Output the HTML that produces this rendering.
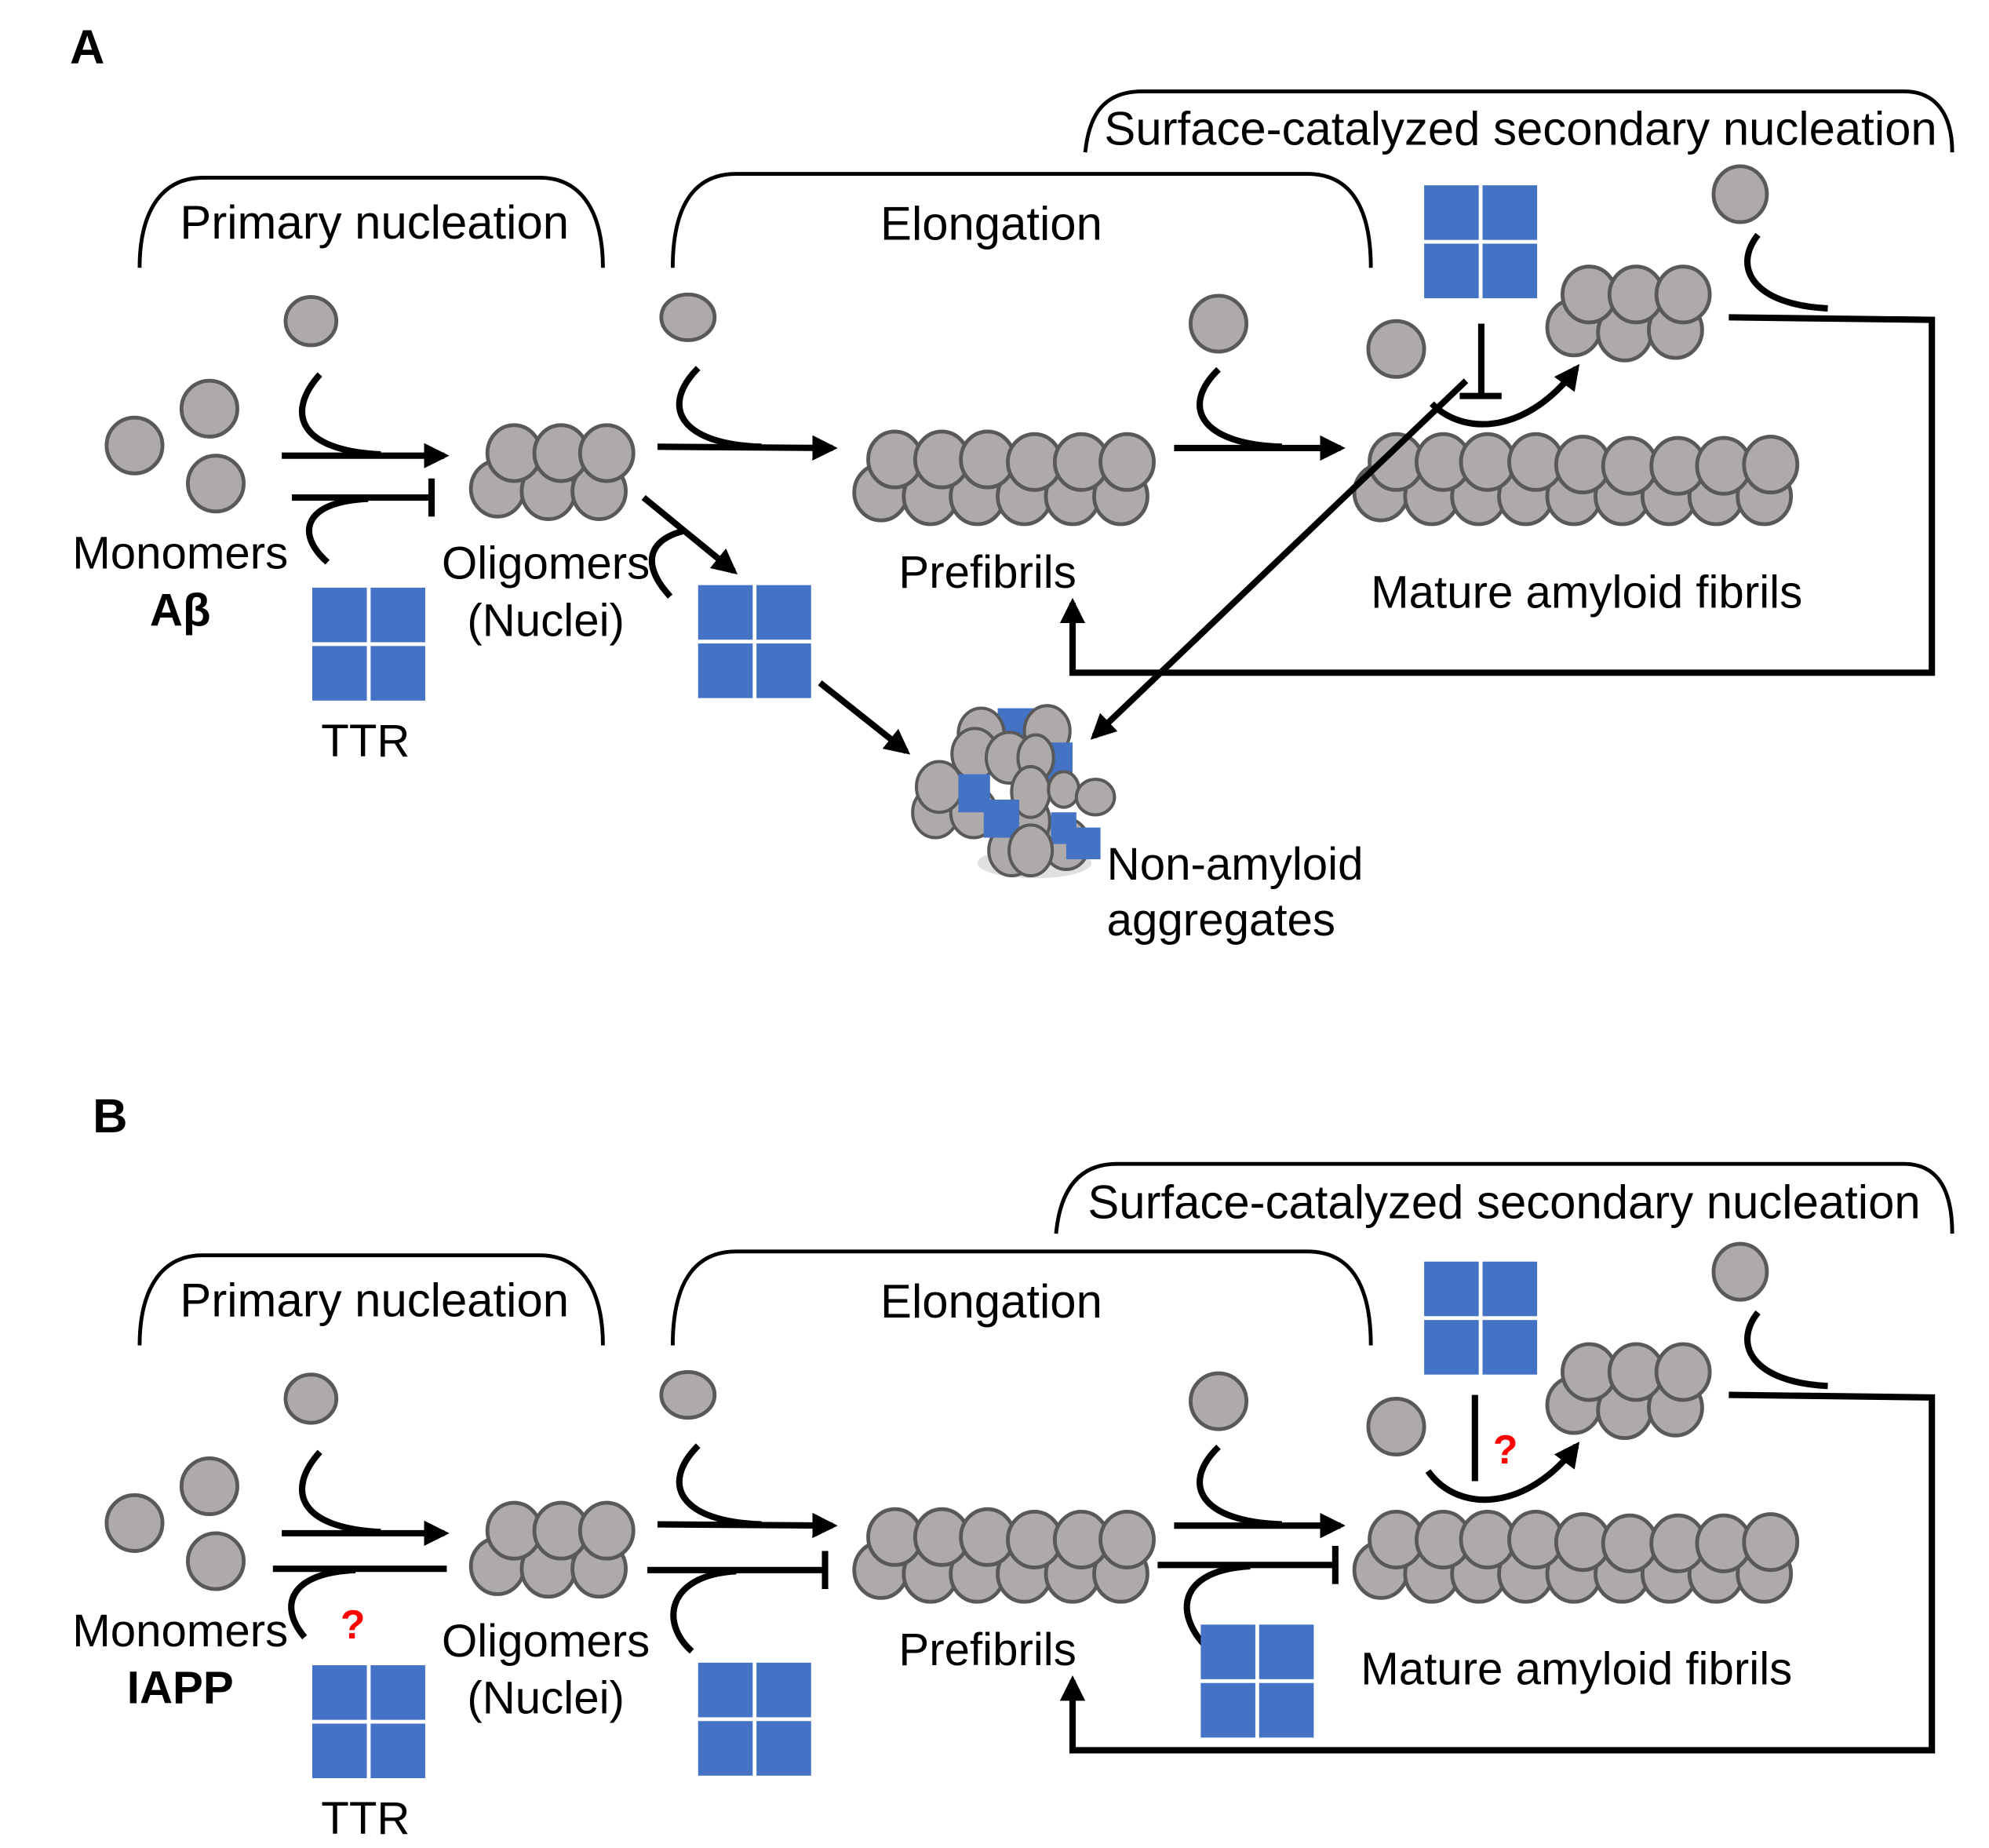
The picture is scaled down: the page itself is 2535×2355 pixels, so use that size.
<!DOCTYPE html>
<html><head><meta charset="utf-8"><style>
html,body{margin:0;padding:0;background:#fff;}
svg{display:block;}
text{font-family:"Liberation Sans",sans-serif;fill:#000;}
</style></head><body>
<svg width="2535" height="2355" viewBox="0 0 1567 1456" preserveAspectRatio="none" xmlns="http://www.w3.org/2000/svg">
<defs>
<marker id="ah" viewBox="0 0 10 10" refX="8" refY="5" markerWidth="4" markerHeight="4" orient="auto" markerUnits="strokeWidth"><path d="M0,0 L10,5 L0,10 z" fill="#000"/></marker>
<g id="ttr"><rect x="0" y="0" width="43" height="43" fill="#4472c4"/><rect x="46" y="0" width="43" height="43" fill="#4472c4"/><rect x="0" y="46" width="43" height="43" fill="#4472c4"/><rect x="46" y="46" width="43" height="43" fill="#4472c4"/></g>
<g id="olig" fill="#aeaaaa" stroke="#595959" stroke-width="3">
<ellipse cx="392" cy="385" rx="21" ry="22"/><ellipse cx="432" cy="387" rx="21" ry="22"/><ellipse cx="472" cy="387" rx="21" ry="22"/>
<ellipse cx="405" cy="357" rx="21" ry="22"/><ellipse cx="442" cy="357" rx="21" ry="22"/><ellipse cx="478" cy="357" rx="21" ry="22"/>
</g>
<g id="pref" fill="#aeaaaa" stroke="#595959" stroke-width="3">
<ellipse cx="694" cy="388" rx="21" ry="22"/><ellipse cx="733" cy="391" rx="21" ry="22"/><ellipse cx="770" cy="391" rx="21" ry="22"/><ellipse cx="807" cy="391" rx="21" ry="22"/><ellipse cx="845" cy="391" rx="21" ry="22"/><ellipse cx="883" cy="391" rx="21" ry="22"/>
<ellipse cx="705" cy="362" rx="21" ry="22"/><ellipse cx="742" cy="362" rx="21" ry="22"/><ellipse cx="778" cy="362" rx="21" ry="22"/><ellipse cx="815" cy="364" rx="21" ry="22"/><ellipse cx="852" cy="364" rx="21" ry="22"/><ellipse cx="888" cy="364" rx="21" ry="22"/>
</g>
<g id="mat" fill="#aeaaaa" stroke="#595959" stroke-width="3">
<ellipse cx="1088" cy="388" rx="21" ry="22"/><ellipse cx="1128" cy="391" rx="21" ry="22"/><ellipse cx="1165" cy="391" rx="21" ry="22"/><ellipse cx="1202" cy="391" rx="21" ry="22"/><ellipse cx="1240" cy="391" rx="21" ry="22"/><ellipse cx="1278" cy="391" rx="21" ry="22"/><ellipse cx="1315" cy="391" rx="21" ry="22"/><ellipse cx="1352" cy="391" rx="21" ry="22"/><ellipse cx="1390" cy="391" rx="21" ry="22"/>
<ellipse cx="1100" cy="364" rx="21" ry="22"/><ellipse cx="1137" cy="364" rx="21" ry="22"/><ellipse cx="1172" cy="364" rx="21" ry="22"/><ellipse cx="1210" cy="364" rx="21" ry="22"/><ellipse cx="1247" cy="366" rx="21" ry="22"/><ellipse cx="1284" cy="367" rx="21" ry="22"/><ellipse cx="1322" cy="367" rx="21" ry="22"/><ellipse cx="1358" cy="367" rx="21" ry="22"/><ellipse cx="1395" cy="366" rx="21" ry="22"/>
</g>
<g id="small" fill="#aeaaaa" stroke="#595959" stroke-width="3">
<ellipse cx="1240" cy="258" rx="21" ry="22"/><ellipse cx="1280" cy="262" rx="21" ry="22"/><ellipse cx="1320" cy="260" rx="21" ry="22"/>
<ellipse cx="1252" cy="232" rx="21" ry="22"/><ellipse cx="1289" cy="232" rx="21" ry="22"/><ellipse cx="1326" cy="232" rx="21" ry="22"/>
</g>
<g id="common">
<path d="M110,211 C110,170 125,140 160,140 L425,140 C460,140 475,170 475,211" fill="none" stroke="#000" stroke-width="3"/>
<path d="M530,211 C530,165 545,137 580,137 L1030,137 C1065,137 1080,165 1080,211" fill="none" stroke="#000" stroke-width="3"/>
<text x="295" y="188" font-size="37" text-anchor="middle">Primary nucleation</text>
<text x="781" y="189" font-size="37" text-anchor="middle">Elongation</text>
<g fill="#aeaaaa" stroke="#595959" stroke-width="3">
<ellipse cx="106" cy="351" rx="22" ry="22"/><ellipse cx="165" cy="322" rx="22" ry="22"/><ellipse cx="170" cy="381" rx="22" ry="22"/>
<ellipse cx="245" cy="253" rx="20" ry="19"/><ellipse cx="542" cy="250" rx="21" ry="18"/><ellipse cx="960" cy="255" rx="22" ry="22"/>
<ellipse cx="1100" cy="275" rx="22" ry="22"/><ellipse cx="1371" cy="153" rx="21" ry="22"/>
</g>
<use href="#olig"/><use href="#pref"/><use href="#mat"/><use href="#small"/>
<g stroke="#000" stroke-width="5" fill="none">
<path d="M222,359 L350,359" marker-end="url(#ah)"/>
<path d="M252,295 C225,325 235,355 300,358"/>
<path d="M518,352 L656,353" marker-end="url(#ah)"/>
<path d="M550,290 C520,320 535,350 600,352"/>
<path d="M925,353 L1056,353" marker-end="url(#ah)"/>
<path d="M960,291 C930,320 945,350 1010,352"/>
<path d="M1385,185 C1365,210 1380,240 1440,243"/>
<path d="M1362,250 L1522,252 L1522,530 L845,530 L845,475" marker-end="url(#ah)"/>
</g>
<text x="142" y="448" font-size="36" text-anchor="middle">Monomers</text>
<text x="430" y="456" font-size="36" text-anchor="middle">Oligomers</text>
<text x="430" y="501" font-size="36" text-anchor="middle">(Nuclei)</text>
<text x="778" y="463" font-size="36" text-anchor="middle">Prefibrils</text>
<text x="288" y="596" font-size="36" text-anchor="middle">TTR</text>
<use href="#ttr" x="246" y="463"/>
<use href="#ttr" x="550" y="461"/>
</g>
</defs>

<text x="55" y="50" font-size="38" font-weight="bold">A</text>
<path d="M855,120 C858,90 870,72 900,72 L1500,72 C1525,72 1538,90 1538,120" fill="none" stroke="#000" stroke-width="3"/>
<text x="1198" y="114" font-size="37" text-anchor="middle">Surface-catalyzed secondary nucleation</text>
<use href="#common"/>
<text x="142" y="493" font-size="36" font-weight="bold" text-anchor="middle">Aβ</text>
<text x="1250" y="479" font-size="36" text-anchor="middle">Mature amyloid fibrils</text>
<g stroke="#000" stroke-width="5" fill="none">
<path d="M230,392 L340,392"/><path d="M340,377 L340,407"/>
<path d="M258,443 C232,420 240,395 290,393"/>
<path d="M507,392 L578,450" marker-end="url(#ah)"/>
<path d="M528,470 C505,445 510,425 540,418"/>
<path d="M646,538 L714,592" marker-end="url(#ah)"/>
<path d="M1167,255 L1167,312"/><path d="M1150,312 L1183,312"/>
<path d="M1128,318 C1155,345 1205,340 1242,290" marker-end="url(#ah)"/>
<path d="M1155,300 L862,580" marker-end="url(#ah)"/>
</g>
<use href="#ttr" x="1122" y="146"/>
<g>
<ellipse cx="815" cy="680" rx="45" ry="12" fill="#ccc" opacity="0.6"/>
<rect x="786" y="558" width="30" height="45" fill="#4472c4"/>
<g fill="#aeaaaa" stroke="#595959" stroke-width="2.5">
<ellipse cx="773" cy="578" rx="18" ry="20"/><ellipse cx="825" cy="576" rx="18" ry="20"/>
<ellipse cx="737" cy="640" rx="18" ry="20"/><ellipse cx="767" cy="640" rx="18" ry="20"/>
<ellipse cx="797" cy="670" rx="18" ry="20"/><ellipse cx="840" cy="665" rx="18" ry="20"/>
</g>
<rect x="815" y="585" width="30" height="45" fill="#4472c4"/>
<g fill="#aeaaaa" stroke="#595959" stroke-width="2.5">
<ellipse cx="740" cy="620" rx="18" ry="20"/>
<ellipse cx="768" cy="594" rx="18" ry="20"/><ellipse cx="795" cy="597" rx="18" ry="20"/><ellipse cx="816" cy="597" rx="14" ry="18"/>
<ellipse cx="812" cy="647" rx="15" ry="20"/><ellipse cx="812" cy="624" rx="15" ry="20"/>
<ellipse cx="838" cy="622" rx="12" ry="14"/><ellipse cx="863" cy="628" rx="15" ry="14"/>
</g>
<rect x="755" y="610" width="25" height="30" fill="#4472c4"/>
<rect x="775" y="630" width="28" height="30" fill="#4472c4"/>
<rect x="828" y="640" width="20" height="25" fill="#4472c4"/>
<g fill="#aeaaaa" stroke="#595959" stroke-width="2.5">
<ellipse cx="812" cy="670" rx="17" ry="20"/>
</g>
<rect x="840" y="652" width="27" height="25" fill="#4472c4"/>
</g>
<text x="872" y="693" font-size="36">Non-amyloid</text>
<text x="872" y="737" font-size="36">aggregates</text>

<text x="73" y="892" font-size="38" font-weight="bold">B</text>
<path d="M832,972 C835,940 848,917 880,917 L1500,917 C1525,917 1538,935 1538,972" fill="none" stroke="#000" stroke-width="3"/>
<text x="1185" y="960" font-size="37" text-anchor="middle">Surface-catalyzed secondary nucleation</text>
<g transform="translate(0,849)">
<use href="#common"/>
<text x="142" y="493" font-size="36" font-weight="bold" text-anchor="middle">IAPP</text>
<text x="1242" y="478" font-size="36" text-anchor="middle">Mature amyloid fibrils</text>
<g stroke="#000" stroke-width="5" fill="none">
<path d="M215,387 L352,387"/>
<path d="M240,441 C218,415 230,390 280,388"/>
<path d="M510,388 L650,388"/><path d="M650,373 L650,403"/>
<path d="M545,452 C520,430 525,392 580,389"/>
<path d="M912,384 L1052,384"/><path d="M1052,369 L1052,399"/>
<path d="M948,446 C925,420 930,388 985,385"/>
<path d="M1162,250 L1162,318"/>
<path d="M1125,310 C1150,345 1205,340 1242,290" marker-end="url(#ah)"/>
</g>
<text x="278" y="442" font-size="32" font-weight="bold" text-anchor="middle" style="fill:#ff0000">?</text>
<text x="1186" y="304" font-size="32" font-weight="bold" text-anchor="middle" style="fill:#ff0000">?</text>
<use href="#ttr" x="1122" y="145"/>
<use href="#ttr" x="946" y="431"/>
</g>
</svg>
</body></html>
